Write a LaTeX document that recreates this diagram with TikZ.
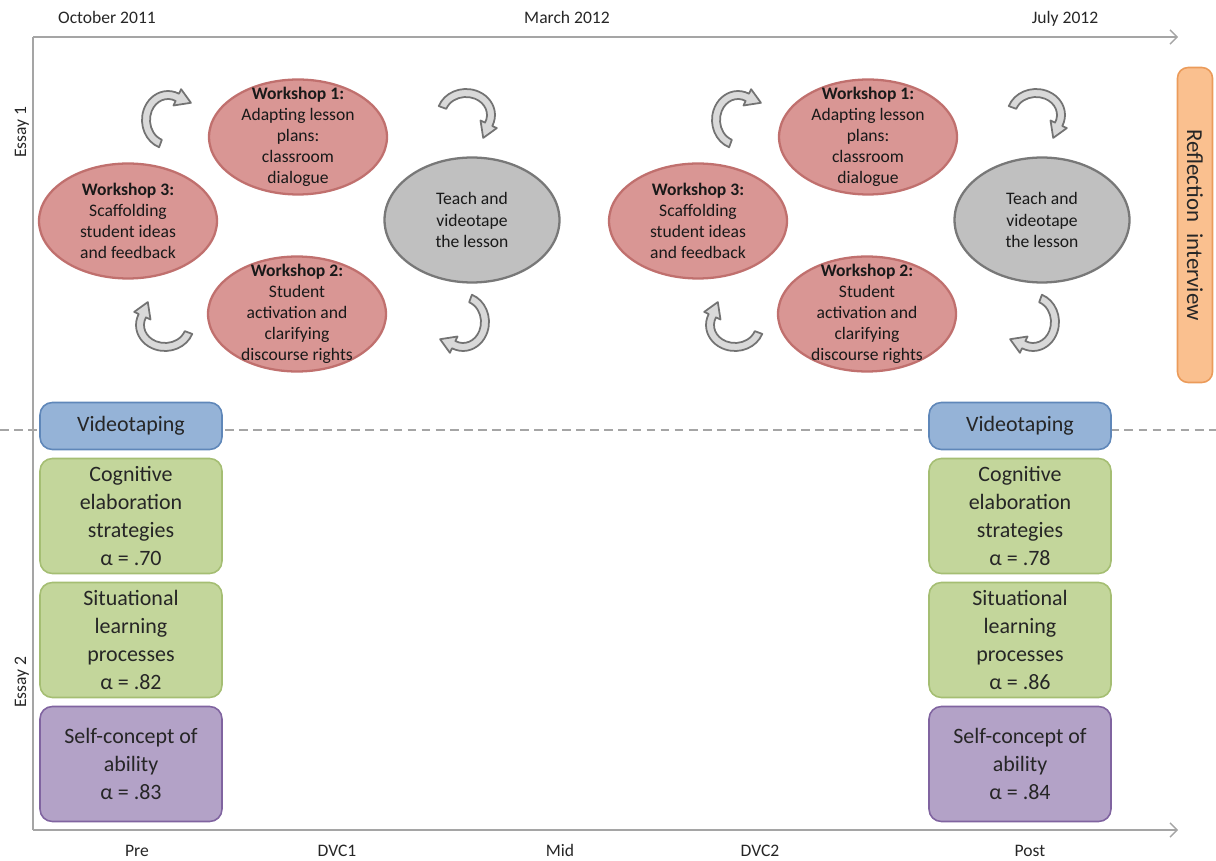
\documentclass[tikz,border=0pt]{standalone}
\usepackage{fontspec}
\setmainfont{Carlito}
\usetikzlibrary{arrows.meta, shapes.geometric}

\definecolor{wsfill}{RGB}{217,150,148}
\definecolor{wsline}{RGB}{192,112,110}
\definecolor{lsfill}{RGB}{192,192,192}
\definecolor{lsline}{RGB}{120,120,120}
\definecolor{vidfill}{RGB}{149,179,215}
\definecolor{vidline}{RGB}{95,135,185}
\definecolor{grfill}{RGB}{195,214,155}
\definecolor{grline}{RGB}{165,190,115}
\definecolor{pufill}{RGB}{179,162,199}
\definecolor{puline}{RGB}{128,100,160}
\definecolor{orfill}{RGB}{250,192,143}
\definecolor{orline}{RGB}{235,155,90}
\definecolor{axisgray}{RGB}{165,165,165}

\tikzset{
	workshop/.style={ellipse, draw=wsline, fill=wsfill, line width=1.3pt, minimum width=3.56cm, minimum height=2.3cm},
	lesson/.style={ellipse, draw=lsline, fill=lsfill, line width=1.3pt, minimum width=3.5cm, minimum height=2.5cm},
	intext/.style={align=center, font=\fontsize{10}{12}\selectfont, text=black!90},
	measure/.style={rectangle, rounded corners=7pt, line width=0.9pt, minimum width=3.64cm, minimum height=2.3cm, align=center, font=\fontsize{12.5}{16}\selectfont, text=black!85},
	videobox/.style={measure, draw=vidline, fill=vidfill, minimum height=0.94cm},
	greenbox/.style={measure, draw=grline, fill=grfill},
	purplebox/.style={measure, draw=puline, fill=pufill},
	datelabel/.style={font=\fontsize{10}{12}\selectfont, text=black!85, text height=1.6ex, text depth=0.4ex},
	axis/.style={draw=axisgray, line width=0.8pt},
	turn/.style={draw=black!55, fill=black!15, line width=1pt, line join=round}
}

% curved block arrow: centre, rotation
\newcommand{\turnarrow}[2]{
	\begin{scope}[shift={(#1)}, rotate=#2]
		\draw [turn] (250:26 and 29) arc [start angle=250, end angle=65, x radius=26, y radius=29]
			-- (65:31 and 34) -- (35:28 and 30) -- (65:13 and 16)
			-- (65:18 and 21) arc [start angle=65, end angle=250, x radius=18, y radius=21] -- cycle;
	\end{scope}
}

\begin{document}
\begin{tikzpicture}[x=0.02cm, y=0.02cm]
	\useasboundingbox (0,0) rectangle (1216,-861);

	% axes
	\coordinate (o) at (33,-37);
	\coordinate (tend) at (1178,-37);
	\coordinate (b0) at (33,-830);
	\coordinate (bend) at (1178,-830);
	\draw [axis, -{Straight Barb[length=4pt, width=8pt]}] (o) -- (tend);
	\draw [axis] (o) -- (b0);
	\draw [axis, -{Straight Barb[length=4pt, width=8pt]}] (b0) -- (bend);

	\node (oct) [datelabel] at (107,-18) {October 2011};
	\node (mar) [datelabel] at (567,-18) {March 2012};
	\node (jul) [datelabel] at (1065,-18) {July 2012};

	\node (pre) [datelabel] at (137,-851) {Pre};
	\node (dvc1) [datelabel] at (337,-851) {DVC1};
	\node (mid) [datelabel] at (560,-851) {Mid};
	\node (dvc2) [datelabel] at (760,-851) {DVC2};
	\node (post) [datelabel] at (1030,-851) {Post};

	\node (essay1) [datelabel, rotate=90] at (21,-132) {Essay 1};
	\node (essay2) [datelabel, rotate=90] at (21,-682) {Essay 2};

	% dashed divider
	\coordinate (dl) at (0,-430);
	\coordinate (dr) at (1216,-430);
	\draw [axisgray, line width=0.8pt, dash pattern=on 5pt off 3pt] (dl) -- (dr);

	% first cycle
	\node (w3a) [workshop, label={[intext]center:{\textbf{Workshop 3:}\\Scaffolding\\student ideas\\and feedback}}] at (128,-221) {};
	\node (w1a) [workshop, label={[intext]center:{\textbf{Workshop 1:}\\Adapting lesson\\plans:\\classroom\\dialogue}}] at (298,-137) {};
	\node (w2a) [workshop, label={[intext]center:{\textbf{Workshop 2:}\\Student\\activation and\\clarifying\\discourse rights}}] at (297,-314) {};
	\node (ta) [lesson, label={[intext]center:{Teach and\\videotape\\the lesson}}] at (472,-220) {};

	\turnarrow{168,-120}{0}
	\turnarrow{466,-115}{-90}
	\turnarrow{463,-322}{180}
	\turnarrow{165,-325}{90}

	% second cycle
	\node (w3b) [workshop, label={[intext]center:{\textbf{Workshop 3:}\\Scaffolding\\student ideas\\and feedback}}] at (698,-221) {};
	\node (w1b) [workshop, label={[intext]center:{\textbf{Workshop 1:}\\Adapting lesson\\plans:\\classroom\\dialogue}}] at (868,-137) {};
	\node (w2b) [workshop, label={[intext]center:{\textbf{Workshop 2:}\\Student\\activation and\\clarifying\\discourse rights}}] at (867,-314) {};
	\node (tb) [lesson, label={[intext]center:{Teach and\\videotape\\the lesson}}] at (1042,-220) {};

	\turnarrow{738,-120}{0}
	\turnarrow{1036,-115}{-90}
	\turnarrow{1033,-322}{180}
	\turnarrow{735,-325}{90}

	\node (refl) [rectangle, rounded corners=6pt, draw=orline, fill=orfill, line width=0.9pt, rotate=-90, minimum width=6.3cm, minimum height=0.7cm, font=\fontsize{13}{15}\selectfont, text=black!85] at (1195,-225) {Reflection\enspace interview};

	% pre measures
	\node (vida) [videobox] at (131,-426) {Videotaping};
	\node (cogpre) [greenbox] at (131,-516) {Cognitive\\elaboration\\strategies\\α = .70};
	\node (sitpre) [greenbox] at (131,-640) {Situational\\learning\\processes\\α = .82};
	\node (selfpre) [purplebox] at (131,-764) {Self-concept of\\ability\\α = .83};

	% post measures
	\node (vidb) [videobox] at (1020,-426) {Videotaping};
	\node (cogpost) [greenbox] at (1020,-516) {Cognitive\\elaboration\\strategies\\α = .78};
	\node (sitpost) [greenbox] at (1020,-640) {Situational\\learning\\processes\\α = .86};
	\node (selfpost) [purplebox] at (1020,-764) {Self-concept of\\ability\\α = .84};

\end{tikzpicture}
\end{document}
